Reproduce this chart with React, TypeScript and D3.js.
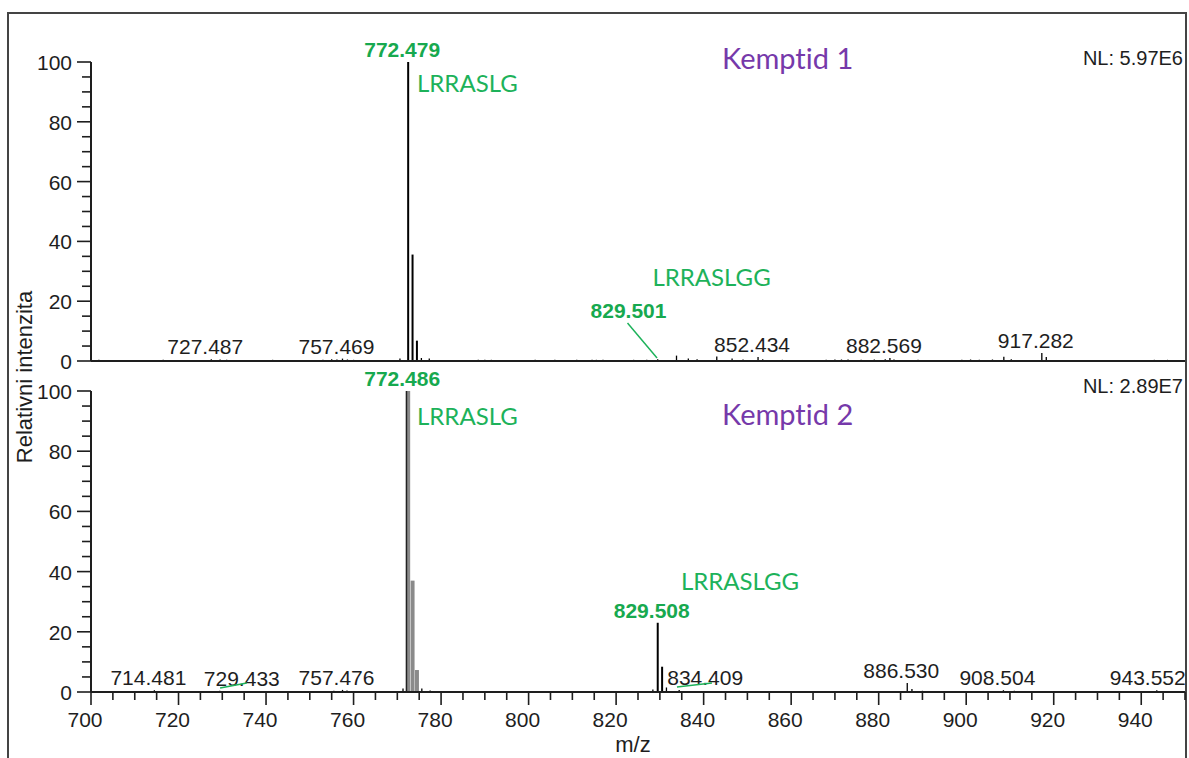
import React from "react";
import * as d3 from "d3";

// ---------- data ----------
const mzDomain: [number, number] = [700, 950];
const relDomain: [number, number] = [0, 100];
const xMajorTicks = [700, 720, 740, 760, 780, 800, 820, 840, 860, 880, 900, 920, 940];
const yMajorTicks = [0, 20, 40, 60, 80, 100];

// Kemptid 1 spectrum: [m/z, relative intensity]
const topPeaks: [number, number][] = [
  [701.8, 0.4], [706, 0.3], [716.5, 0.4], [721, 0.3], [724.5, 0.3], [727.487, 0.6], [729.5, 0.5],
  [731, 0.4], [736, 0.3], [741.5, 0.4], [753, 0.4], [755, 0.6], [756.2, 0.5], [757.469, 0.8],
  [758.6, 0.5], [760, 0.4], [764, 0.3], [770.6, 0.8], [772.479, 100], [773.48, 35.6], [774.48, 6.8],
  [775.5, 1.0], [777.3, 0.8], [782, 0.3], [788.5, 0.4], [790, 0.4], [791.5, 0.4], [798, 0.3],
  [801.5, 0.4], [806, 0.4], [811, 0.4], [814.5, 0.4], [815.5, 0.4], [817, 0.4], [824, 0.4],
  [827, 0.4], [829.501, 0.6], [833.8, 1.8], [836.5, 0.8], [838.5, 0.6], [843, 1.5], [846.5, 0.8],
  [849, 0.5], [852.434, 1.3], [853.5, 0.6], [858, 0.4], [864, 0.3], [868, 0.4], [870, 0.5],
  [871.5, 0.5], [873, 0.5], [876, 0.4], [879, 0.5], [881.5, 0.6], [882.569, 1.0], [883.5, 0.5],
  [889, 0.4], [895, 0.3], [899, 0.4], [901, 0.5], [903, 0.4], [906, 0.5], [908.6, 1.4],
  [910.3, 0.6], [917.282, 2.7], [918.3, 1.3], [925, 0.3], [943, 0.4], [946, 0.4],
];
const topLabels = ["727.487", "757.469", "852.434", "882.569", "917.282"];
const topHighlights = ["772.479"];

// Kemptid 2 spectrum
const bottomPeaks: [number, number][] = [
  [703, 0.3], [714.481, 0.6], [716, 0.3], [729.433, 0.4], [731, 0.3], [744, 0.3], [755.5, 0.4],
  [757.476, 0.7], [758.5, 0.5], [771.3, 1.2], [775.6, 1.2], [777.5, 0.5], [790, 0.3], [810, 0.3],
  [828.4, 0.8], [829.508, 23], [830.51, 8.4], [831.5, 1.5], [834.409, 0.7], [838, 0.3], [855, 0.3],
  [869, 0.3], [886.53, 3.0], [887.6, 1.0], [890, 0.4], [908.504, 0.6], [911, 0.4], [943.552, 0.6],
  [946, 0.3],
];
// profile (filled) isotope cluster of the base peak
const bottomProfile: [number, number][] = [[772.486, 100], [773.49, 37], [774.49, 7.3]];
const bottomLabels = ["714.481", "729.433", "757.476", "834.409", "886.530", "908.504", "943.552"];
const bottomHighlights = ["772.486", "829.508"];

const panelTitles = ["Kemptid 1", "Kemptid 2"];
const normLevels = ["NL: 5.97E6", "NL: 2.89E7"];
const sequences = ["LRRASLG", "LRRASLGG"];

// ---------- layout ----------
const W = 1189;
const H = 758;
const GREEN = "#1db25a";
const GREEN_B = "#17a94f";
const PURPLE = "#7639aa";
const INK = "#1e1e1e";
const ARIAL = "'Liberation Sans', Arial, sans-serif";
const CAL = "Lato, 'Open Sans', sans-serif";
const LABEL_DX = -6;
const noLig = { fontVariantLigatures: "none" as const };
// extra horizontal shifts of some peak labels (px)
const labelShift: Record<string, number> = { "729.433": 28, "834.409": 32, "943.552": -3 };

const x = d3.scaleLinear().domain(mzDomain).range([91, 1185]);
const yTop = d3.scaleLinear().domain(relDomain).range([361, 62]);
const yBot = d3.scaleLinear().domain(relDomain).range([692, 391]);

const xMinor = d3.range(700, 950.01, 5).filter((v) => v % 20 !== 0);
const yMinor = d3.range(0, 100.01, 5).filter((v) => v % 20 !== 0);

function YAxis({ y }: { y: d3.ScaleLinear<number, number> }) {
  const x0 = x(mzDomain[0]);
  return (
    <g>
      <line x1={x0} x2={x0} y1={y(0)} y2={y(100)} stroke={INK} strokeWidth={2} />
      {yMinor.map((v) => (
        <line key={"m" + v} x1={x0 - 9} x2={x0} y1={y(v)} y2={y(v)} stroke={INK} strokeWidth={1.6} />
      ))}
      {yMajorTicks.map((v) => (
        <g key={v}>
          <line x1={x0 - 14} x2={x0} y1={y(v)} y2={y(v)} stroke={INK} strokeWidth={1.6} />
          <text x={x0 - 19} y={y(v) + 8} textAnchor="end" fontFamily={ARIAL} fontSize={21} fill={INK}>
            {v}
          </text>
        </g>
      ))}
    </g>
  );
}

function Peaks({ peaks, y }: { peaks: [number, number][]; y: d3.ScaleLinear<number, number> }) {
  return (
    <g>
      {peaks.map(([m, r], i) => (
        <line
          key={i}
          x1={x(m)}
          x2={x(m)}
          y1={y(0)}
          y2={y(r)}
          stroke="#000"
          strokeWidth={r > 5 ? 2 : 1.3}
        />
      ))}
    </g>
  );
}

function PeakLabels({
  peaks,
  labels,
  y,
  bold,
}: {
  peaks: [number, number][];
  labels: string[];
  y: d3.ScaleLinear<number, number>;
  bold?: boolean;
}) {
  return (
    <g>
      {labels.map((lab) => {
        const m = parseFloat(lab);
        const pk = peaks.find((p) => Math.abs(p[0] - m) < 0.01);
        const r = pk ? pk[1] : 0;
        return (
          <text
            key={lab}
            x={x(m) + LABEL_DX + (labelShift[lab] || 0)}
            y={y(r) - 5}
            textAnchor="middle"
            fontFamily={ARIAL}
            fontSize={21}
            fontWeight={bold ? 700 : 400}
            fill={bold ? GREEN_B : INK}
          >
            {lab}
          </text>
        );
      })}
    </g>
  );
}

export default function App() {
  const allBottom = [...bottomPeaks, ...bottomProfile];
  return (
    <svg
      width={W}
      height={H}
      viewBox={`0 0 ${W} ${H}`}
      style={{ position: "absolute", left: 0, top: 0, background: "#fff" }}
    >
      <rect x={0} y={0} width={W} height={H} fill="#fff" />
      <rect x={8} y={13} width={1178} height={770} fill="none" stroke="#444" strokeWidth={2} />

      {/* ---------- top panel ---------- */}
      <Peaks peaks={topPeaks} y={yTop} />
      <line x1={x(700)} x2={x(950)} y1={yTop(0)} y2={yTop(0)} stroke={INK} strokeWidth={2} />
      <YAxis y={yTop} />
      <PeakLabels peaks={topPeaks} labels={topLabels} y={yTop} />
      <PeakLabels peaks={topPeaks} labels={topHighlights} y={yTop} bold />
      <text x={x(844.2)} y={yTop(97.5)} fontFamily={CAL} fontSize={29} fill={PURPLE} style={noLig}>
        {panelTitles[0]}
      </text>
      <text x={1183} y={yTop(100) + 3} textAnchor="end" fontFamily={ARIAL} fontSize={20} fill={INK}>
        {normLevels[0]}
      </text>
      <text x={x(774.5)} y={yTop(90)} fontFamily={CAL} fontSize={24} fill={GREEN}>
        {sequences[0]}
      </text>
      <text x={x(828.3)} y={yTop(25.1)} fontFamily={CAL} fontSize={24} fill={GREEN}>
        {sequences[1]}
      </text>
      <text
        x={x(822.83)}
        y={yTop(14.4)}
        textAnchor="middle"
        fontFamily={ARIAL}
        fontSize={21}
        fontWeight={700}
        fill={GREEN_B}
      >
        829.501
      </text>
      <line x1={x(822.6)} y1={yTop(12.7)} x2={x(829.35)} y2={yTop(1)} stroke={GREEN} strokeWidth={1.5} />

      {/* ---------- bottom panel ---------- */}
      {bottomProfile.map(([m, r], i) => (
        <rect
          key={"p" + i}
          x={x(m - 0.45)}
          width={x(m + 0.45) - x(m - 0.45)}
          y={yBot(r)}
          height={yBot(0) - yBot(r)}
          fill="#8a8a8a"
        />
      ))}
      <line
        x1={x(bottomProfile[0][0] - 0.4)}
        x2={x(bottomProfile[0][0] - 0.4)}
        y1={yBot(0)}
        y2={yBot(bottomProfile[0][1])}
        stroke="#222"
        strokeWidth={1.5}
      />
      <Peaks peaks={bottomPeaks} y={yBot} />
      <line x1={x(700)} x2={x(950)} y1={yBot(0)} y2={yBot(0)} stroke={INK} strokeWidth={2} />
      {xMinor.map((v) => (
        <line key={"xm" + v} x1={x(v)} x2={x(v)} y1={yBot(0)} y2={yBot(0) + 8} stroke={INK} strokeWidth={1.6} />
      ))}
      {xMajorTicks.map((v) => (
        <g key={"xM" + v}>
          <line x1={x(v)} x2={x(v)} y1={yBot(0)} y2={yBot(0) + 13} stroke={INK} strokeWidth={1.6} />
          <text x={x(v) + LABEL_DX} y={727} textAnchor="middle" fontFamily={ARIAL} fontSize={21} fill={INK}>
            {v}
          </text>
        </g>
      ))}
      <YAxis y={yBot} />
      <PeakLabels peaks={allBottom} labels={bottomLabels} y={yBot} />
      <PeakLabels peaks={allBottom} labels={bottomHighlights} y={yBot} bold />
      <text x={x(844.2)} y={yBot(88.7)} fontFamily={CAL} fontSize={29} fill={PURPLE} style={noLig}>
        {panelTitles[1]}
      </text>
      <text x={1183} y={yBot(100) + 2} textAnchor="end" fontFamily={ARIAL} fontSize={20} fill={INK}>
        {normLevels[1]}
      </text>
      <text x={x(774.5)} y={yBot(88.7)} fontFamily={CAL} fontSize={24} fill={GREEN}>
        {sequences[0]}
      </text>
      <text x={x(834.8)} y={yBot(33.9)} fontFamily={CAL} fontSize={24} fill={GREEN}>
        {sequences[1]}
      </text>
      <line x1={x(729.5)} y1={yBot(1.3)} x2={x(735.6)} y2={yBot(3)} stroke={GREEN} strokeWidth={1.5} />
      <line x1={x(833.9)} y1={yBot(1.7)} x2={x(841.9)} y2={yBot(3)} stroke={GREEN} strokeWidth={1.5} />

      {/* axis titles */}
      <text x={633} y={752} textAnchor="middle" fontFamily={ARIAL} fontSize={22} fill={INK}>
        m/z
      </text>
      <text
        transform="translate(32,377) rotate(-90)"
        textAnchor="middle"
        fontFamily={ARIAL}
        fontSize={22}
        fill={INK}
      >
        Relativni intenzita
      </text>
    </svg>
  );
}
